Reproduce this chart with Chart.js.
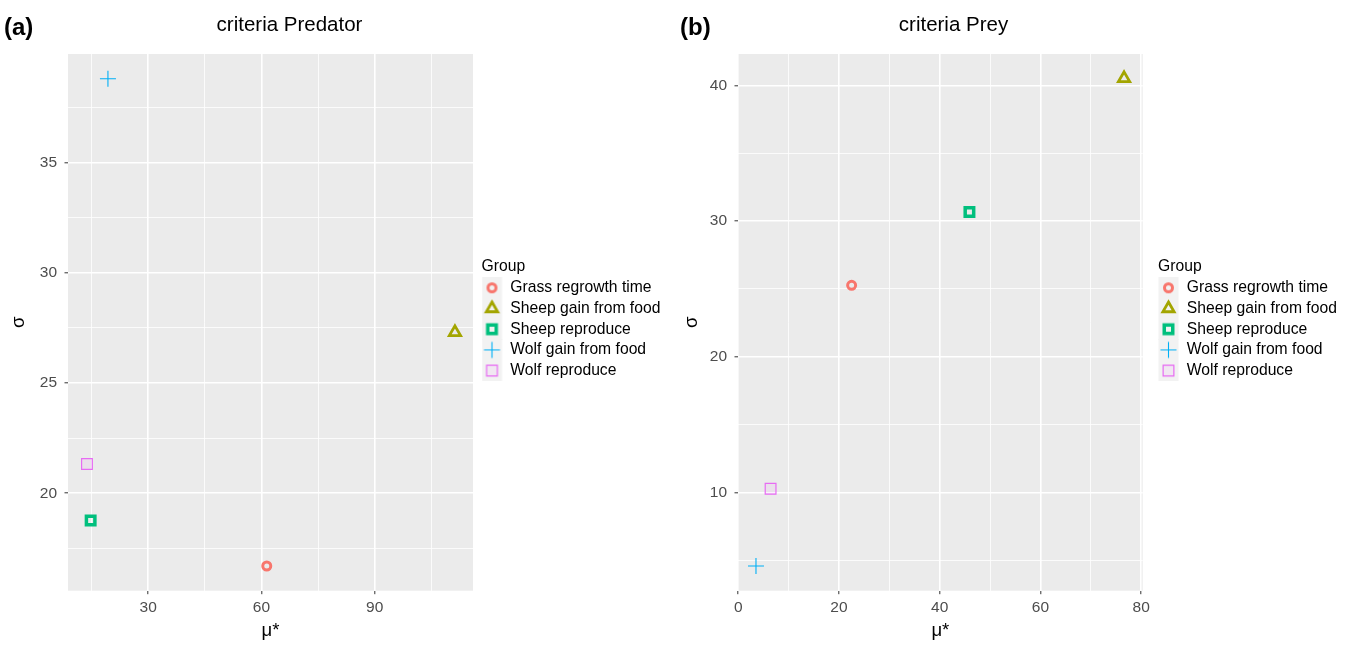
<!DOCTYPE html>
<html>
<head>
<meta charset="utf-8">
<title>criteria Predator / Prey</title>
<script src="https://cdn.jsdelivr.net/npm/chart.js@4.4.1/dist/chart.umd.min.js"></script>
<style>
  body { margin: 0; background: #fff; width: 1353px; height: 646px; position: relative; overflow: hidden;
         font-family: 'Liberation Sans', Arial, Helvetica, sans-serif; }
  canvas { position: absolute; top: 0; }
  #predChart { left: 0; }
  #preyChart { left: 676px; }
  .tag { position: absolute; top: 15px; font-weight: bold; font-size: 24px; line-height: 1; color: #000; }
  .ptitle { position: absolute; top: 14px; width: 300px; text-align: center; font-size: 20.5px; line-height: 1; color: #000; }
</style>
</head>
<body>
<canvas id="predChart" width="676" height="646"></canvas>
<canvas id="preyChart" width="677" height="646"></canvas>
<div class="tag" style="left:4px">(a)</div>
<div class="ptitle" style="left:139.5px">criteria Predator</div>
<div class="tag" style="left:680px">(b)</div>
<div class="ptitle" style="left:803.5px">criteria Prey</div>

<script>
// groups and values
const groups = ['Grass regrowth time', 'Sheep gain from food', 'Sheep reproduce', 'Wolf gain from food', 'Wolf reproduce'];

const predMu    = [61.4, 111.25, 14.75, 19.33, 13.77];
const predSigma = [16.70, 27.30, 18.76, 38.81, 21.33];

const preyMu    = [22.51, 76.6, 45.9, 3.52, 6.42];
const preySigma = [25.26, 40.51, 30.66, 4.57, 10.27];

// axis ranges and ticks
const predXRange = [8.75, 116.03];
const predYRange = [15.58, 39.93];
const predXMajor = [30, 60, 90];
const predXMinor = [15, 45, 75, 105];
const predYMajor = [20, 25, 30, 35];
const predYMinor = [17.5, 22.5, 27.5, 32.5, 37.5];

const preyXRange = [-0.05, 80.3];
const preyYRange = [2.75, 42.31];
const preyXMajor = [0, 20, 40, 60, 80];
const preyXMinor = [10, 30, 50, 70];
const preyYMajor = [10, 20, 30, 40];
const preyYMinor = [5, 15, 25, 35];

// ggplot default hues
const colors = ['#F8766D', '#A3A500', '#00BF7D', '#00B0F6', '#E76BF3'];
const markers = [
    { style: 'circle',   radius: 4,   width: 3,   fill: 'rgba(0,0,0,0)' },
    { style: 'triangle', radius: 6.5, width: 2.8, fill: 'rgba(0,0,0,0)' },
    { style: 'rect',     radius: 6,   width: 3.5, fill: 'rgba(0,0,0,0)' },
    { style: 'cross',    radius: 8,   width: 1.1, fill: 'rgba(0,0,0,0)' },
    { style: 'rect',     radius: 7.6, width: 1.2, fill: 'rgba(231,107,243,0.08)' }
];

Chart.defaults.font.family = "'Liberation Sans', Arial, Helvetica, sans-serif";

// grey legend keys with the marker on top
function makeKey(i) {
    const c = document.createElement('canvas');
    c.width = 26;
    c.height = 21;
    const ctx = c.getContext('2d');
    ctx.fillStyle = '#F2F2F2';
    ctx.fillRect(0.5, 0, 20, 21);
    ctx.strokeStyle = colors[i];
    ctx.fillStyle = markers[i].fill;
    ctx.lineWidth = markers[i].width;
    Chart.helpers.drawPoint(ctx, {
        pointStyle: markers[i].style,
        radius: markers[i].radius,
        borderWidth: markers[i].width,
        rotation: 0
    }, 10.5, 10.5);
    return c;
}
const keyImages = groups.map((g, i) => makeKey(i));

const panelBackground = {
    id: 'panelBackground',
    beforeDraw(chart) {
        const { ctx, chartArea: a } = chart;
        ctx.save();
        ctx.fillStyle = '#EBEBEB';
        ctx.fillRect(a.left, a.top, a.right - a.left, a.bottom - a.top);
        ctx.restore();
    }
};

// put the legend a little away from the panel, like ggplot does
const legendPlace = {
    id: 'legendPlace',
    afterLayout(chart, args, opts) {
        const lg = chart.legend;
        lg.left = opts.x;
        lg.width = 200;
        lg.right = opts.x + 200;
        lg.top += opts.dy;
        lg.bottom += opts.dy;
    }
};

function buildDatasets(mu, sigma) {
    return groups.map((g, i) => ({
        label: g,
        data: [{ x: mu[i], y: sigma[i] }],
        pointStyle: markers[i].style,
        pointRadius: markers[i].radius,
        pointHoverRadius: markers[i].radius,
        pointBorderWidth: markers[i].width,
        pointBorderColor: colors[i],
        pointBackgroundColor: markers[i].fill,
        borderColor: colors[i],
        backgroundColor: markers[i].fill
    }));
}

function buildAxis(title, range, major, minor, size, titlePad) {
    const all = major.concat(minor).sort((a, b) => a - b);
    const isMajor = c => c.tick && major.includes(c.tick.value);
    return {
        type: 'linear',
        min: range[0],
        max: range[1],
        afterBuildTicks: scale => { scale.ticks = all.map(v => ({ value: v })); },
        afterFit: scale => {
            if (scale.isHorizontal()) scale.height = size;
            else scale.width = size;
        },
        border: { display: false },
        grid: {
            color: '#FFFFFF',
            lineWidth: c => isMajor(c) ? 1.6 : 0.8,
            drawTicks: true,
            tickLength: 3.5,
            tickWidth: 1,
            tickColor: c => isMajor(c) ? '#333333' : 'rgba(0,0,0,0)'
        },
        ticks: {
            autoSkip: false,
            maxRotation: 0,
            padding: title === 'σ' ? 7.5 : 4,
            color: '#4D4D4D',
            font: { size: 15.5 },
            callback: v => major.includes(v) ? String(v) : ''
        },
        title: {
            display: true,
            text: title,
            color: '#000000',
            font: { size: 18.5 },
            padding: titlePad
        }
    };
}

function legendOptions() {
    return {
        position: 'right',
        align: 'center',
        fullSize: false,
        maxWidth: 150,
        title: {
            display: true,
            text: 'Group',
            position: 'start',
            color: '#000000',
            font: { size: 15.7, lineHeight: 1 },
            padding: 0
        },
        labels: {
            usePointStyle: true,
            pointStyleWidth: 16,
            padding: 5,
            color: '#000000',
            font: { size: 15.7 },
            generateLabels: chart =>
                Chart.defaults.plugins.legend.labels.generateLabels(chart)
                    .map((item, i) => Object.assign(item, { pointStyle: keyImages[i] }))
        }
    };
}

function makeChart(id, mu, sigma, xRange, yRange, xMajor, xMinor, yMajor, yMinor, yWidth, padRight, yTitlePad, legendX) {
    return new Chart(document.getElementById(id), {
        type: 'scatter',
        data: { datasets: buildDatasets(mu, sigma) },
        options: {
            responsive: false,
            animation: false,
            layout: { padding: { top: 54, right: padRight, bottom: 0, left: 0 } },
            scales: {
                x: buildAxis('μ*', xRange, xMajor, xMinor, 55.3, { top: 0, bottom: 3.8 }),
                y: buildAxis('σ', yRange, yMajor, yMinor, yWidth, { top: yTitlePad, bottom: 0 })
            },
            plugins: {
                legend: legendOptions(),
                legendPlace: { x: legendX, dy: -1 },
                tooltip: { enabled: false }
            }
        },
        plugins: [panelBackground, legendPlace]
    });
}

makeChart('predChart', predMu, predSigma, predXRange, predYRange,
    predXMajor, predXMinor, predYMajor, predYMinor, 68, 53, 8.3, 481.5);
makeChart('preyChart', preyMu, preySigma, preyXRange, preyYRange,
    preyXMajor, preyXMinor, preyYMajor, preyYMinor, 62, 60.3, 4.5, 482);
</script>
</body>
</html>
